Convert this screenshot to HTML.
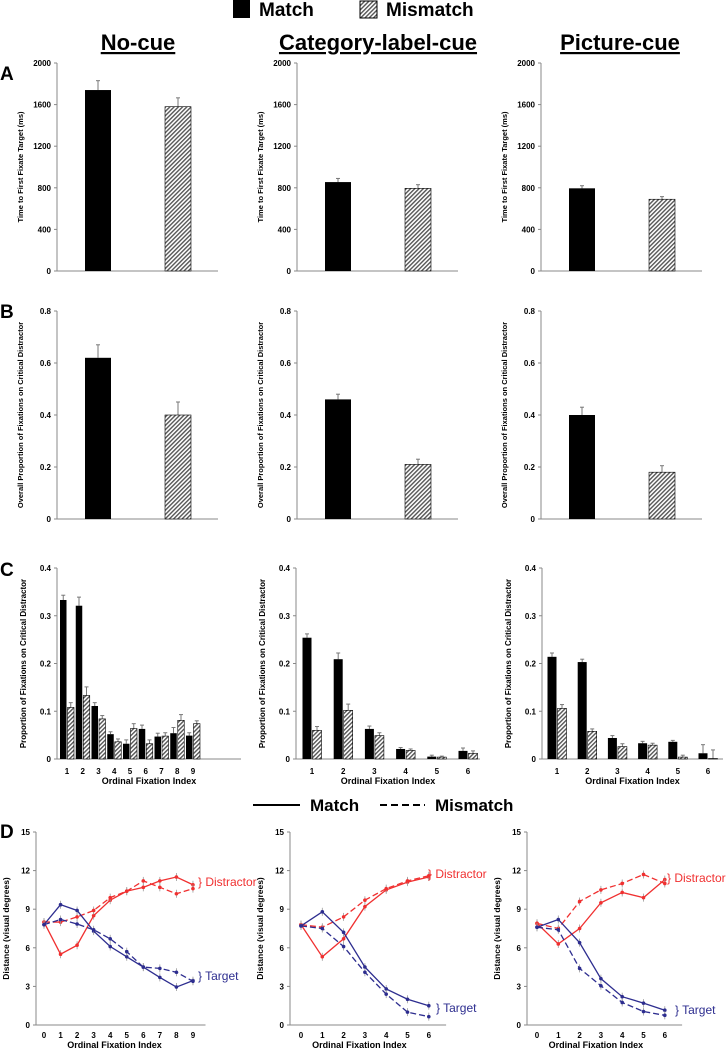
<!DOCTYPE html>
<html><head><meta charset="utf-8"><style>
body{margin:0;background:#fff}
svg{display:block;font-family:"Liberation Sans",Arial,sans-serif}
</style></head><body>
<svg id="fig" width="728" height="1050" viewBox="0 0 728 1050" xmlns="http://www.w3.org/2000/svg">
<defs>
<pattern id="hatch" patternUnits="userSpaceOnUse" width="3" height="3" patternTransform="rotate(45)">
<rect width="3" height="3" fill="#fff"/><rect width="1.4" height="3" fill="#555"/>
</pattern>
</defs>
<g>
<rect x="233" y="0" width="17" height="18" fill="#000"/>
<text x="259" y="16" font-size="19" font-weight="bold">Match</text>
<rect x="360" y="1" width="17" height="17" fill="url(#hatch)" stroke="#000" stroke-width="1"/>
<text x="386" y="16" font-size="19" font-weight="bold">Mismatch</text>
</g>
<g font-size="22" font-weight="bold" text-anchor="middle" text-decoration="underline">
<text x="138" y="50">No-cue</text>
<text x="378" y="50">Category-label-cue</text>
<text x="620" y="50">Picture-cue</text>
</g>
<g font-size="19" font-weight="bold">
<text x="0" y="80">A</text>
<text x="0" y="318">B</text>
<text x="0" y="576">C</text>
<text x="0" y="838">D</text>
</g>
<g>
<line x1="253" y1="805" x2="300" y2="805" stroke="#000" stroke-width="2"/>
<text x="310" y="811" font-size="17" font-weight="bold">Match</text>
<line x1="380" y1="805" x2="425" y2="805" stroke="#000" stroke-width="2" stroke-dasharray="7,4"/>
<text x="435" y="811" font-size="17" font-weight="bold">Mismatch</text>
</g>
</svg>
<script>
// Row A: time to first fixate target (ms)
const aMatch=[1740,855,795], aMatchErr=[90,35,25];
const aMis=[1580,795,690], aMisErr=[85,35,25];
const aTicks=[0,400,800,1200,1600,2000];
// Row B: overall proportion on critical distractor
const bMatch=[0.62,0.46,0.40], bMatchErr=[0.05,0.02,0.03];
const bMis=[0.40,0.21,0.18], bMisErr=[0.05,0.02,0.025];
const bTicks=[0,0.2,0.4,0.6,0.8];
// Row C: per-fixation proportions
const cCats=[[1,2,3,4,5,6,7,8,9],[1,2,3,4,5,6],[1,2,3,4,5,6]];
const cMatch=[[.333,.321,.111,.052,.032,.063,.047,.054,.049],[.254,.209,.063,.021,.005,.017],[.214,.203,.044,.033,.036,.012]];
const cMatchErr=[[.01,.018,.007,.005,.008,.008,.007,.012,.006],[.008,.013,.006,.003,.003,.006],[.008,.006,.005,.004,.003,.018]];
const cMis=[[.108,.133,.084,.036,.064,.032,.048,.081,.074],[.060,.102,.049,.018,.004,.012],[.106,.058,.026,.029,.004,.001]];
const cMisErr=[[.01,.018,.007,.006,.01,.008,.007,.012,.006],[.008,.013,.006,.003,.002,.005],[.008,.005,.006,.004,.004,.018]];
const cTicks=[0,0.1,0.2,0.3,0.4];
// Row D: distance (visual degrees)
const dX=[[0,1,2,3,4,5,6,7,8,9],[0,1,2,3,4,5,6],[0,1,2,3,4,5,6]];
const dDistMatch=[[8.0,5.5,6.2,8.5,9.7,10.4,10.7,11.2,11.5,10.9],[7.8,5.3,6.7,9.2,10.5,11.1,11.5],[7.9,6.3,7.5,9.5,10.3,9.9,11.3]];
const dDistMis=[[8.0,8.0,8.4,8.9,9.9,10.4,11.2,10.7,10.2,10.6],[7.8,7.6,8.4,9.7,10.6,11.2,11.6],[7.9,7.5,9.6,10.5,11.0,11.7,11.0]];
const dTargMatch=[[7.8,9.35,8.9,7.3,6.1,5.3,4.5,3.7,2.95,3.45],[7.7,8.8,7.2,4.5,2.8,2.0,1.5],[7.6,8.2,6.4,3.6,2.2,1.7,1.15]];
const dTargMis=[[7.8,8.2,7.85,7.4,6.7,5.7,4.5,4.4,4.1,3.4],[7.7,7.5,6.1,4.1,2.4,1.0,0.65],[7.6,7.4,4.4,3.05,1.75,1.05,0.75]];
const dTicks=[0,3,6,9,12,15];

const NS='http://www.w3.org/2000/svg', svg=document.getElementById('fig');
function mk(tag,at,parent,txt){const e=document.createElementNS(NS,tag);for(const k in at)e.setAttribute(k,at[k]);if(txt!==undefined)e.textContent=txt;(parent||svg).appendChild(e);return e;}
const fmt=v=>String(+v.toFixed(2)).replace(/^0\./,'0.').replace(/^0$/,'0');

function axes(g,x0,x1,yTop,yBot,ticks,ymax,title,tx,tfs){
  const y=v=>yBot-(v/ymax)*(yBot-yTop);
  const ax=mk('line',{x1:x0,y1:yTop,x2:x0,y2:yBot,stroke:'#888','stroke-width':1},g);
  
  
  const bx=mk('line',{x1:x0,y1:yBot,x2:x1,y2:yBot,stroke:'#888','stroke-width':1},g);
  
  
  ticks.forEach(t=>{
    mk('line',{x1:x0-3,y1:y(t),x2:x0,y2:y(t),stroke:'#888'},g);
    const tl=mk('text',{x:x0-6,y:y(t)+3,'font-size':8,'font-weight':'bold','text-anchor':'end'},g,fmt(t));
    
    
  });
  const yt=mk('text',{x:0,y:0,'font-size':tfs,'font-weight':'bold','text-anchor':'middle',transform:`translate(${tx},${(yTop+yBot)/2}) rotate(-90)`},g,title);
  
  
  return y;
}
function bar(g,x,w,v,e,y,yBot,hatch,name){
  mk('line',{x1:x+w/2,y1:y(v+e),x2:x+w/2,y2:y(v),stroke:'#777','stroke-width':1},g);
  mk('line',{x1:x+w/2-2,y1:y(v+e),x2:x+w/2+2,y2:y(v+e),stroke:'#777','stroke-width':1},g);
  const r=mk('rect',{x:x,y:y(v),width:w,height:Math.max(0,yBot-y(v)),fill:hatch?'url(#hatch)':'#000',stroke:'#000','stroke-width':hatch?0.6:0},g);
  
  
}
const colX=[57,297,541];
// Rows A & B
[[aMatch,aMatchErr,aMis,aMisErr,aTicks,2000,63,271,'Time to First Fixate Target (ms)','a'],
 [bMatch,bMatchErr,bMis,bMisErr,bTicks,0.8,311,519,'Overall Proportion of Fixations on Critical Distractor','b']].forEach(r=>{
  for(let i=0;i<3;i++){
    const g=mk('g',{});
    
    
    const x0=colX[i];
    const y=axes(g,x0,x0+161,r[6],r[7],r[4],r[5],r[8],x0-34,7.5);
    bar(g,x0+28,26,r[0][i],r[1][i],y,r[7],false,'bar-match');
    bar(g,x0+108,26,r[2][i],r[3][i],y,r[7],true,'bar-mismatch');
  }
});
// Row C
const cAxisX=[57,296,542], cEnd=[241,480,723], cFirst=[67,312,557], cStep=[15.75,31.2,30.2];
for(let i=0;i<3;i++){
  const g=mk('g',{});
  
  
  const yTop=568,yBot=759;
  const y=axes(g,cAxisX[i],cEnd[i],yTop,yBot,cTicks,0.4,'Proportion of Fixations on Critical Distractor',cAxisX[i]-31,8);
  const bw=i==0?6.5:9;
  cCats[i].forEach((c,j)=>{
    const cx=cFirst[i]+(c-1)*cStep[i];
    bar(g,cx-bw-0.5,bw,cMatch[i][j],cMatchErr[i][j],y,yBot,false,'bar-match');
    bar(g,cx+0.5,bw,cMis[i][j],cMisErr[i][j],y,yBot,true,'bar-mismatch');
    const tl=mk('text',{x:cx,y:774,'font-size':8,'font-weight':'bold','text-anchor':'middle'},g,c);
    
    
  });
  const xt=mk('text',{x:(cAxisX[i]+cEnd[i])/2,y:784,'font-size':9,'font-weight':'bold','text-anchor':'middle'},g,'Ordinal Fixation Index');
  
  
}
// Row D
const dAxisX=[36,290,527], dFirst=[44,301,537], dStep=[16.55,21.3,21.3];
const dLabX=[198,428,667], dLabY=[[886,980],[878,1012],[882,1014]];
for(let i=0;i<3;i++){
  const g=mk('g',{});
  
  
  const yTop=832,yBot=1025;
  const y=axes(g,dAxisX[i],dFirst[i]+dX[i].length*dStep[i]-4,yTop,yBot,dTicks,15,'Distance (visual degrees)',dAxisX[i]-27,8.5);
  const x=v=>dFirst[i]+v*dStep[i];
  dX[i].forEach(v=>{
    const tl=mk('text',{x:x(v),y:1038,'font-size':8,'font-weight':'bold','text-anchor':'middle'},g,v);
    
    
  });
  const xt=mk('text',{x:(dAxisX[i]+x(dX[i].length-1))/2,y:1048,'font-size':9,'font-weight':'bold','text-anchor':'middle'},g,'Ordinal Fixation Index');
  
  
  [[dDistMatch,'#f03030',false,'line-distractor-match'],[dDistMis,'#f03030',true,'line-distractor-mismatch'],
   [dTargMatch,'#2d2d8f',false,'line-target-match'],[dTargMis,'#2d2d8f',true,'line-target-mismatch']].forEach(s=>{
    const vals=s[0][i];
    vals.forEach((v,j)=>{mk('line',{x1:x(dX[i][j]),y1:y(v)-4,x2:x(dX[i][j]),y2:y(v)+4,stroke:'#999','stroke-width':0.8},g);});
    const pts=vals.map((v,j)=>x(dX[i][j])+','+y(v)).join(' ');
    const pl=mk('polyline',{points:pts,fill:'none',stroke:s[1],'stroke-width':1.3,'stroke-dasharray':s[2]?'6,3':'none'},g);
    
    
    vals.forEach((v,j)=>{
      const c=mk('circle',{cx:x(dX[i][j]),cy:y(v),r:1.8,fill:s[1]},g);
      
      
    });
  });
  const l1=mk('text',{x:dLabX[i],y:dLabY[i][0],'font-size':12,fill:'#f03030'},g,'} Distractor');
  
  
  const l2=mk('text',{x:dLabX[i]+(i==0?0:8),y:dLabY[i][1],'font-size':12,fill:'#2d2d8f'},g,'} Target');
  
  
}
</script>
</body></html>
